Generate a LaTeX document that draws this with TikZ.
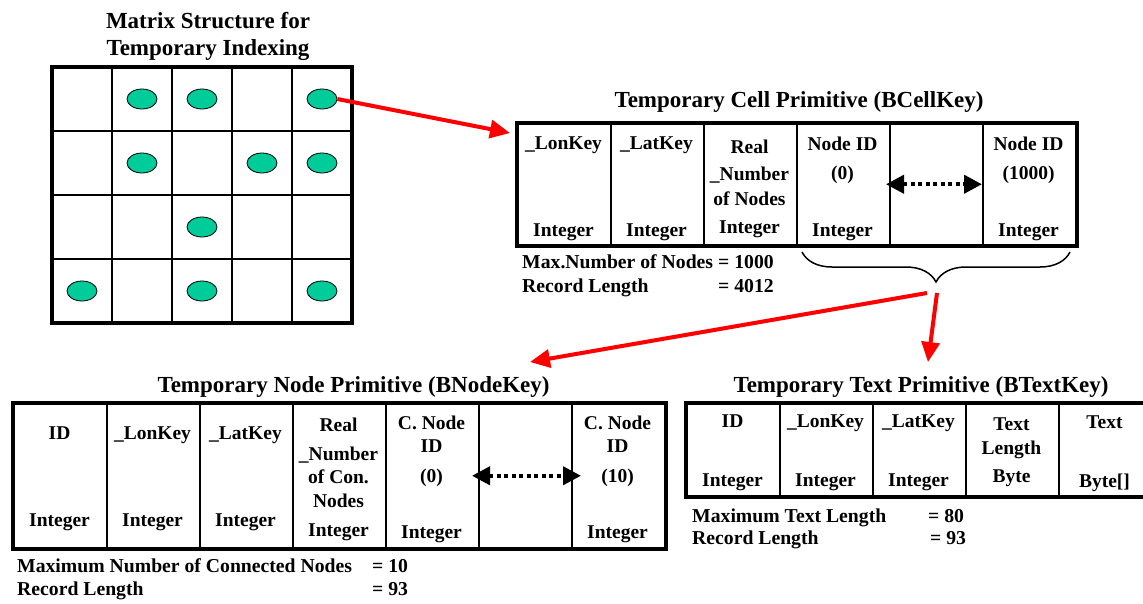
\documentclass[tikz,border=0pt]{standalone}
\usepackage{fontspec}
\setmainfont{Liberation Serif}
\usetikzlibrary{arrows.meta,shapes.geometric,decorations.pathreplacing}
\definecolor{dotgreen}{RGB}{0,204,153}

\begin{document}
\begin{tikzpicture}[
    x=1pt, y=-1pt,
    box title/.style={font=\fontsize{23}{27}\selectfont\bfseries, inner sep=0pt, align=center},
    field/.style={font=\fontsize{19.5}{25}\selectfont\bfseries, inner sep=0pt, align=center},
    note/.style={font=\fontsize{19.7}{24}\selectfont\bfseries, inner sep=0pt, anchor=base west},
    column/.style={draw=black, line width=1.5pt, minimum width=93pt, inner sep=0pt, anchor=north west},
    frame/.style={draw=black, line width=4pt},
    divider/.style={draw=black, line width=1.8pt},
    cell dot/.style={ellipse, draw=black, line width=0.8pt, fill=dotgreen, minimum width=30pt, minimum height=20pt, inner sep=0pt},
    link/.style={draw=red, line width=4pt, -{Triangle[length=20pt, width=18pt]}},
    span/.style={line width=4pt, dash pattern=on 4pt off 3.5pt, {Triangle[length=18pt, width=18pt]}-{Triangle[length=18pt, width=18pt]}},
    group brace/.style={decorate, decoration={brace, amplitude=30pt}, line width=1.5pt}
]
\useasboundingbox (0,0) rectangle (1143,603);
\clip (0,0) rectangle (1143,603);

% matrix of cells
\node[box title, anchor=north] (mtitle) at (208,12) {Matrix Structure for\\Temporary Indexing};
\foreach \x in {112,172,232,292} \draw[divider] (\x,67) -- (\x,323);
\foreach \y in {131,195,259} \draw[divider] (52,\y) -- (352,\y);
\draw[frame] (52,67) rectangle (352,323);
\foreach \c/\r in {2/1,3/1,5/1,2/2,4/2,5/2,3/3,1/4,3/4,5/4}
  \node[cell dot] (dot\c\r) at ({22+60*\c},{35+64*\r}) {};

% cell primitive
\node[box title, anchor=base] (celltitle) at (799,107) {Temporary Cell Primitive (BCellKey)};
\foreach \i in {1,...,6} \node[column, minimum height=121pt] (cell\i) at ({424+93*\i},123) {};
\draw[frame] (cell1.north west) rectangle (cell6.south east);

\node[field, anchor=north] (cell1 name) at (563.5,136.5) {\_LonKey};
\node[field, anchor=north] (cell2 name) at (656.5,136.5) {\_LatKey};
\node[field, anchor=north] (cell3 name) at (749.5,139.5) {Real\\[2pt]\_Number\\of Nodes};
\node[field, anchor=north] (cell4 name) at (842.5,136.5) {Node ID\\[4pt](0)};
\node[field, anchor=north] (cell6 name) at (1028.5,136.5) {Node ID\\[4pt](1000)};
\foreach \i/\yb in {1/236,2/236,3/233,4/236,6/236}
  \node[field, anchor=base] (cell\i type) at ({470.5+93*\i},\yb) {Integer};
\draw[span] ([xshift=-3pt]cell5.west) -- (cell6.west);

\node[note] (cellmax) at (522,268) {Max.Number of Nodes};
\node[note] (cellmaxv) at (718,268) {= 1000};
\node[note] (cellrec) at (522,292) {Record Length};
\node[note] (cellrecv) at (718,292) {= 4012};

\draw[group brace] (1070,252) -- (802,252);

% node primitive
\node[box title, anchor=base] (nodetitle) at (353.5,392) {Temporary Node Primitive (BNodeKey)};
\foreach \i in {1,...,7} \node[column, minimum height=144pt] (node\i) at ({-80+93*\i},403) {};
\draw[frame] (node1.north west) rectangle (node7.south east);

\node[field, anchor=north] (node1 name) at (59.5,426.5) {ID};
\node[field, anchor=north] (node2 name) at (152.5,426.5) {\_LonKey};
\node[field, anchor=north] (node3 name) at (245.5,426.5) {\_LatKey};
\node[field, anchor=north] (node4 name) at (338.5,417.5) {Real\\[4pt]\_Number\\[-2pt]of Con.\\[-1pt]Nodes};
\node[field, anchor=north] (node5 name) at (431.5,415.5) {C. Node\\[-2pt]ID\\[5pt](0)};
\node[field, anchor=north] (node7 name) at (617.5,415.5) {C. Node\\[-2pt]ID\\[5pt](10)};
\foreach \i/\yb in {1/526,2/526,3/526,4/536,5/538,7/538}
  \node[field, anchor=base] (node\i type) at ({-33.5+93*\i},\yb) {Integer};
\draw[span] ([xshift=-6pt]node6.west) -- ([xshift=10pt]node7.west);

\node[note] (nodemax) at (17,572) {Maximum Number of Connected Nodes};
\node[note] (nodemaxv) at (372,572) {= 10};
\node[note] (noderec) at (17,595) {Record Length};
\node[note] (noderecv) at (372,595) {= 93};

% text primitive
\node[box title, anchor=base] (texttitle) at (921,392) {Temporary Text Primitive (BTextKey)};
\foreach \i in {1,...,5} \node[column, minimum height=92pt] (text\i) at ({593+93*\i},403) {};
\draw[frame] (text1.north west) rectangle (text5.south east);

\node[field, anchor=north] (text1 name) at (732.5,415) {ID};
\node[field, anchor=north] (text2 name) at (825.5,415) {\_LonKey};
\node[field, anchor=north] (text3 name) at (918.5,415) {\_LatKey};
\node[field, anchor=north] (text4 name) at (1011.5,417.5) {Text\\[-1pt]Length\\[3pt]Byte};
\node[field, anchor=north] (text5 name) at (1104.5,415.5) {Text};
\foreach \i in {1,2,3}
  \node[field, anchor=base] (text\i type) at ({639.5+93*\i},486) {Integer};
\node[field, anchor=base] (text5 type) at (1104.5,487) {Byte[]};

\node[note] (textmax) at (692,522) {Maximum Text Length};
\node[note] (textmaxv) at (928,522) {= 80};
\node[note] (textrec) at (692,544) {Record Length};
\node[note] (textrecv) at (930,544) {= 93};

% red links
\coordinate (cellin) at (510,133);
\coordinate (split) at (932,293);
\coordinate (nodein) at (530,362);
\coordinate (textin) at (928,362);
\draw[link] (dot51.east) -- (cellin);
\draw[link] ([xshift=-5pt]split) -- (nodein);
\draw[link] ([xshift=5pt]split) -- (textin);

\end{tikzpicture}
\end{document}
